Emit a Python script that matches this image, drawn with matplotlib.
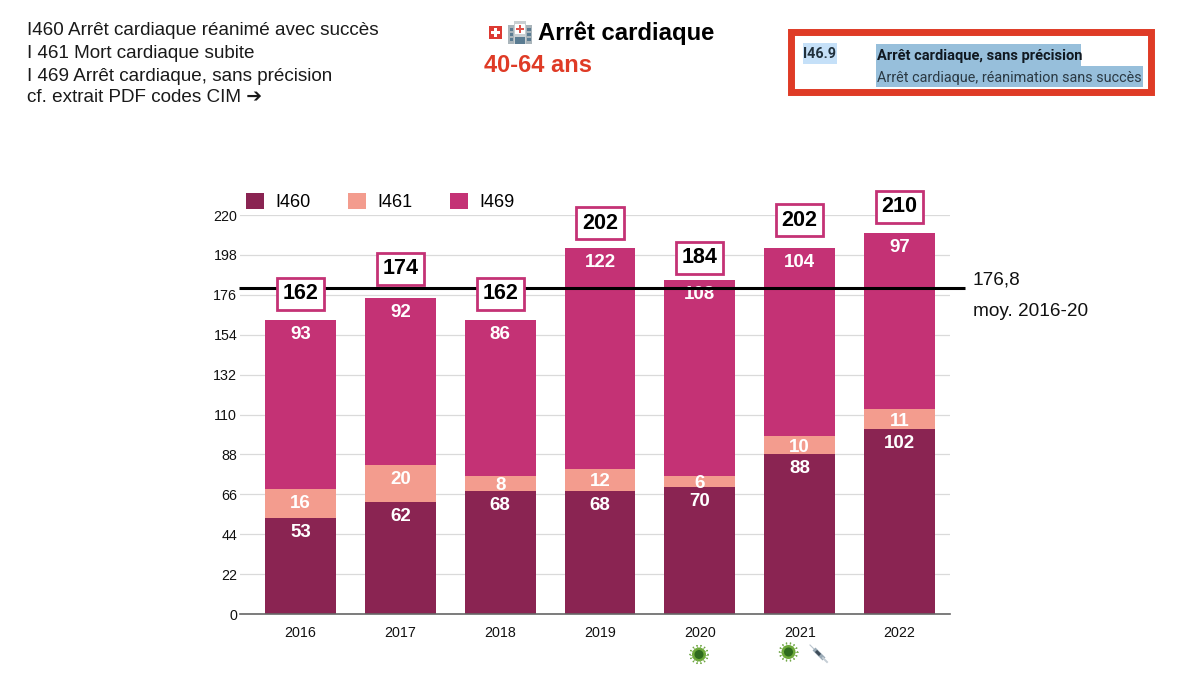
import numpy as np
import matplotlib
matplotlib.use("Agg")
import matplotlib.pyplot as plt
from matplotlib.patches import Rectangle, Circle

plt.rcParams['font.family'] = ['Liberation Sans', 'DejaVu Sans']

years = ['2016', '2017', '2018', '2019', '2020', '2021', '2022']
i460 = [53, 62, 68, 68, 70, 88, 102]
i461 = [16, 20, 8, 12, 6, 10, 11]
i469 = [93, 92, 86, 122, 108, 104, 97]
totals = [162, 174, 162, 202, 184, 202, 210]
yticks = [0, 22, 44, 66, 88, 110, 132, 154, 176, 198, 220]
series_names = ['I460', 'I461', 'I469']
mean_line_drawn = 179.7
mean_label = '176,8'
mean_caption = 'moy. 2016-20'
left_notes = ['I460 Arrêt cardiaque réanimé avec succès', 'I 461 Mort cardiaque subite',
              'I 469 Arrêt cardiaque, sans précision', 'cf. extrait PDF codes CIM ➔']

C460, C461, C469 = '#8A2452', '#F39C8E', '#C43275'
RED = '#DF3B26'
W, H = 1200, 675
fig = plt.figure(figsize=(12, 6.75), dpi=100)

# main axes placed in pixel terms
L, R, T, B = 240, 950, 215, 614
ax = fig.add_axes([L / W, 1 - B / H, (R - L) / W, (B - T) / H])
x = np.arange(len(years))
ax.set_xlim(-0.605, 6.505)
ax.set_ylim(0, 220)
bw = 0.71
b1 = ax.bar(x, i460, bw, color=C460, label=series_names[0], zorder=3)
b2 = ax.bar(x, i461, bw, bottom=i460, color=C461, label=series_names[1], zorder=3)
bot3 = np.array(i460) + np.array(i461)
b3 = ax.bar(x, i469, bw, bottom=bot3, color=C469, label=series_names[2], zorder=3)
ax.set_yticks(yticks)
ax.set_xticks(x, years)
ax.tick_params(axis='both', length=0, labelsize=10.3, labelcolor='#111111')
ax.tick_params(axis='y', pad=2)
ax.tick_params(axis='x', pad=8.5)
ax.grid(axis='y', color='#DADADA', lw=0.9, zorder=0)
ax.grid(axis='x', visible=False)
for s in ['top', 'left', 'right']:
    ax.spines[s].set_visible(False)
ax.spines['bottom'].set_color('#666666')
ax.spines['bottom'].set_linewidth(1.2)
ax.spines['bottom'].set_zorder(5)

px_per_unit = (B - T) / 220
for vals, bots in [(i460, [0] * 7), (i461, i460), (i469, bot3)]:
    for xi, v, b in zip(x, vals, bots):
        off = min(12.5, v * px_per_unit / 2)
        ax.annotate(str(v), (xi, b + v), xytext=(0, -off), textcoords='offset pixels',
                    ha='center', va='center_baseline', color='white', fontweight='bold',
                    fontsize=13.5, zorder=4)

# mean line (in figure-wide extent)
ax.plot([-0.62, 6.66], [mean_line_drawn] * 2, color='black', lw=2.2, zorder=6, clip_on=False,
        solid_capstyle='butt')

box_offsets = [29, 32, 29, 27, 25, 30, 29]
for xi, t, o in zip(x, totals, box_offsets):
    ax.annotate(str(t), (xi, t), xytext=(0, o), textcoords='offset pixels', ha='center',
                va='center_baseline', fontsize=15.5, fontweight='bold', color='black', zorder=8,
                bbox=dict(boxstyle='square,pad=0.26', fc='white', ec=C469, lw=2))

ax.legend(handles=[b1, b2, b3], ncol=3, frameon=False, loc='upper left',
          bbox_to_anchor=((246 - L) / (R - L), (B - 193) / (B - T)), borderaxespad=0, borderpad=0,
          fontsize=13, handlelength=1.0, handleheight=1.0, handletextpad=0.65, columnspacing=2.05)

# pixel overlay
ov = fig.add_axes([0, 0, 1, 1], zorder=10)
ov.set_xlim(0, W)
ov.set_ylim(H, 0)
ov.axis('off')
ov.patch.set_alpha(0)

for s, yy in zip(left_notes, [35, 58, 81, 102]):
    ov.text(27, yy, s, fontsize=13.55, va='baseline', color='#1a1a1a')
ov.text(973, 280, mean_label, fontsize=13.7, va='center', color='#111111')
ov.text(973, 311, mean_caption, fontsize=13.7, va='center', color='#111111')

ov.text(538, 33.5, 'Arrêt cardiaque', fontsize=17.2, fontweight='bold', va='center', color='black')
ov.text(484, 65, '40-64 ans', fontsize=17, fontweight='bold', va='center', color=RED)

# Swiss flag
ov.add_patch(Rectangle((489, 26), 13, 13, fc='#DD3A33', ec='none'))
ov.add_patch(Rectangle((494, 28), 3.4, 9, fc='white', ec='none'))
ov.add_patch(Rectangle((491, 30.8), 9, 3.4, fc='white', ec='none'))
# hospital
ov.add_patch(Rectangle((508, 25), 24, 19, fc='#A9B4BA', ec='none'))
ov.add_patch(Rectangle((514, 21), 12, 23, fc='#C9CFD2', ec='none'))
ov.add_patch(Rectangle((515, 24), 10, 10, fc='white', ec='none'))
ov.add_patch(Rectangle((519, 25), 2.4, 8, fc='#E0524A', ec='none'))
ov.add_patch(Rectangle((516, 27.8), 8, 2.4, fc='#E0524A', ec='none'))
ov.add_patch(Rectangle((515, 37), 10, 7, fc='#5B7C92', ec='none'))
for wy in (28, 33, 38):
    for wx in (509.5, 527):
        ov.add_patch(Rectangle((wx, wy), 3.5, 2.5, fc='#5B7C92', ec='none'))

# box with ICD code
ov.add_patch(Rectangle((791, 32), 359.5, 60, fc='white', ec=RED, lw=5))
ov.add_patch(Rectangle((803, 43), 34, 21, fc='#C5E0F8', ec='none'))
ov.add_patch(Rectangle((876, 44), 205, 22, fc='#97BFDB', ec='none'))
ov.add_patch(Rectangle((876, 66), 267, 21, fc='#97BFDB', ec='none'))
ov.text(803, 54, 'I46.9', family='Roboto', fontweight='bold', fontsize=10.3, va='center', color='#20303c')
ov.text(877, 56, 'Arrêt cardiaque, sans précision', family='Roboto', fontweight='bold',
        fontsize=10.5, va='center', color='#101820')
ov.text(877, 78, 'Arrêt cardiaque, réanimation sans succès', family='Roboto', fontsize=10.4,
        va='center', color='#2b3a44')

# virus icons
def virus(cx, cy):
    for a in np.linspace(0, 2 * np.pi, 14, endpoint=False):
        ov.plot([cx + 6 * np.cos(a), cx + 9 * np.cos(a)], [cy + 6 * np.sin(a), cy + 9 * np.sin(a)],
                color='#7DB050', lw=0.5)
        ov.add_patch(Circle((cx + 9 * np.cos(a), cy + 9 * np.sin(a)), 0.8, fc='#5C9A2F', ec='none'))
    ov.add_patch(Circle((cx, cy), 7, fc='#6CA838', ec='none'))
    ov.add_patch(Circle((cx, cy), 4.5, fc='#2F6B1E', ec='none'))
virus(699, 654.5)
virus(788.5, 652)
# syringe
ov.plot([810, 815], [645, 650], color='#B8C4CC', lw=0.8)
ov.plot([814, 824], [649, 659], color='#9AAAB6', lw=3, solid_capstyle='butt')
ov.plot([816, 820], [651, 655], color='#3E4C58', lw=2.2, solid_capstyle='butt')
ov.plot([823, 827], [658, 662], color='#C5CED5', lw=1.4)

fig.savefig('out.png', dpi=100)
